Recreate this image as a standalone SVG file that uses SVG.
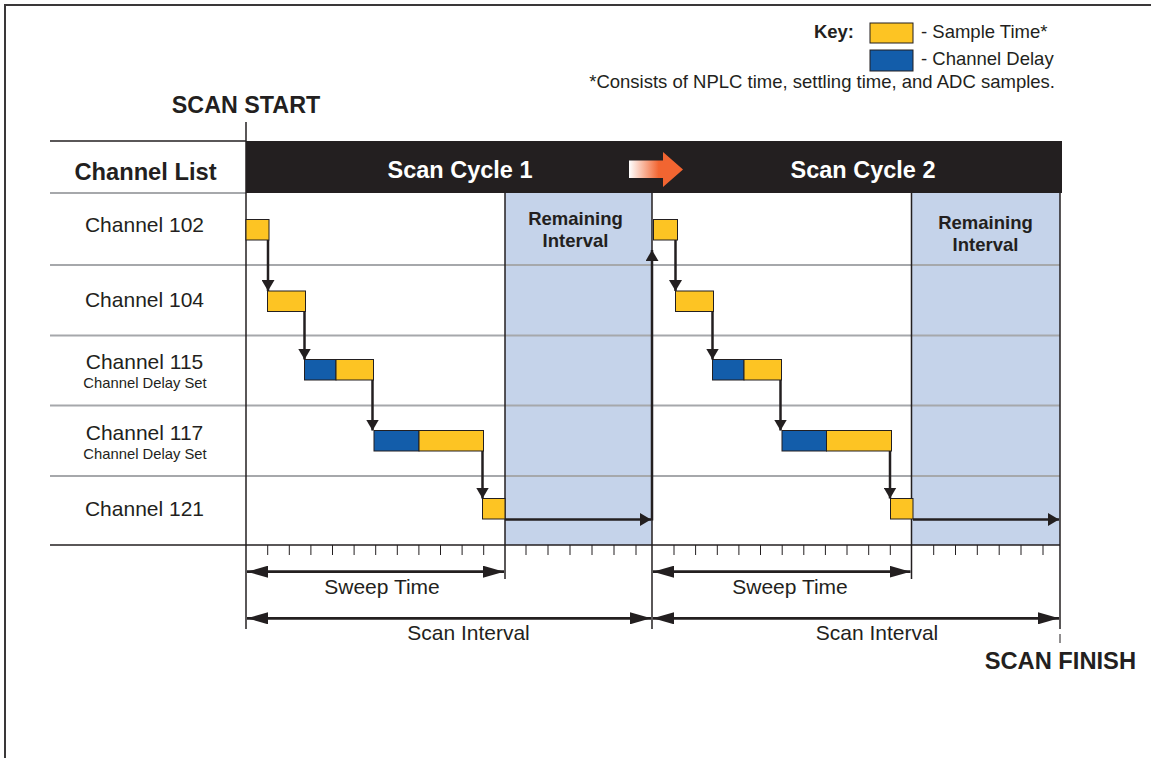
<svg xmlns="http://www.w3.org/2000/svg" width="1151" height="758" viewBox="0 0 1151 758">
<defs>
<linearGradient id="og" x1="0" y1="0" x2="1" y2="0">
<stop offset="0" stop-color="#FFFFFF"/>
<stop offset="0.55" stop-color="#F26531"/>
<stop offset="1" stop-color="#F26531"/>
</linearGradient>
<marker id="ah" markerUnits="userSpaceOnUse" markerWidth="12" markerHeight="13" refX="11" refY="6.5" orient="auto">
<path d="M0,0 L11,6.5 L0,13 z" fill="#231F20"/>
</marker>
<marker id="dh" markerUnits="userSpaceOnUse" markerWidth="21" markerHeight="12" refX="21" refY="6" orient="auto-start-reverse">
<path d="M0,0 L21,6 L0,12 z" fill="#231F20"/>
</marker>
<style>
text{font-family:"Liberation Sans",Arial,sans-serif;fill:#231F20}
.b{font-weight:bold}
.w{fill:#FFFFFF;font-weight:bold;font-size:23.5px}
.ch{font-size:21px;text-anchor:middle}
.sub{font-size:14.8px;text-anchor:middle}
.rem{font-size:18.5px;font-weight:bold;text-anchor:middle}
.dim{font-size:21px;text-anchor:middle}
.key{font-size:18.5px}
.y{fill:#FDC423;stroke:#231F20;stroke-width:1}
.bl{fill:#135DAA;stroke:#231F20;stroke-width:1}
.rm{fill:#C5D3EA}
.grid{stroke:#A6A8AB;stroke-width:2;fill:none}
.dk{stroke:#231F20;stroke-width:1.5;fill:none}
.tick{stroke:#231F20;stroke-width:1;fill:none}
.conn{stroke:#231F20;stroke-width:2.5;fill:none;marker-end:url(#ah)}
.dl{stroke:#231F20;stroke-width:2.8;fill:none;marker-start:url(#dh);marker-end:url(#dh)}
</style>
</defs>
<rect x="0" y="0" width="1151" height="758" fill="#FFFFFF"/>
<path d="M5,758 V5 H1151" stroke="#3A3839" stroke-width="2" fill="none"/>

<g id="remaining-intervals">
<rect class="rm" x="505" y="193" width="147" height="352"/>
<rect class="rm" x="911.5" y="193" width="148.5" height="352"/>
</g>

<g id="grid">
<line class="dk" x1="50" y1="141" x2="246" y2="141"/>
<line class="grid" x1="50" y1="193" x2="246" y2="193"/>
<line class="grid" x1="50" y1="265" x2="1060" y2="265"/>
<line class="grid" x1="50" y1="335.5" x2="1060" y2="335.5"/>
<line class="grid" x1="50" y1="405.5" x2="1060" y2="405.5"/>
<line class="grid" x1="50" y1="476" x2="1060" y2="476"/>
<line class="dk" x1="50" y1="545" x2="1060" y2="545"/>
<line class="dk" x1="246" y1="122" x2="246" y2="629"/>
<line class="dk" x1="505" y1="193" x2="505" y2="579"/>
<line class="dk" x1="652" y1="193" x2="652" y2="629"/>
<line class="dk" x1="911.5" y1="193" x2="911.5" y2="579"/>
<line class="dk" x1="1060" y1="193" x2="1060" y2="629"/>
<line class="tick" x1="1060" y1="634" x2="1060" y2="643"/>
<path class="tick" d="M267.7,545v10M289.3,545v10M310.9,545v10M332.5,545v10M354.1,545v10M375.7,545v10M397.3,545v10M418.9,545v10M440.5,545v10M462.1,545v10M483.7,545v10M526,545v10M548,545v10M570,545v10M592,545v10M614,545v10M636,545v10M674,545v10M695.6,545v10M717.3,545v10M738.9,545v10M760.5,545v10M782.2,545v10M803.8,545v10M825.4,545v10M847,545v10M868.7,545v10M890.3,545v10M933.7,545v10M955.5,545v10M977.3,545v10M999.2,545v10M1021,545v10M1043,545v10"/>
</g>

<g id="header">
<rect x="246" y="141" width="816" height="52" fill="#231F20"/>
<text class="w" x="460" y="177.5" text-anchor="middle">Scan Cycle 1</text>
<text class="w" x="863" y="177.5" text-anchor="middle">Scan Cycle 2</text>
<path d="M629,160.5 H663 V152 L683,169.5 L663,187 V178 H629 z" fill="url(#og)"/>
</g>

<g id="labels">
<text class="b" x="246" y="112.5" font-size="23.3" text-anchor="middle">SCAN START</text>
<text class="b" x="1136" y="668.5" font-size="23.7" text-anchor="end">SCAN FINISH</text>
<text class="b" x="145.5" y="180" font-size="23.7" text-anchor="middle">Channel List</text>
<text class="ch" x="144.5" y="231.5">Channel 102</text>
<text class="ch" x="144.5" y="306.5">Channel 104</text>
<text class="ch" x="144.5" y="368.5">Channel 115</text>
<text class="sub" x="145" y="387.5">Channel Delay Set</text>
<text class="ch" x="144.5" y="440">Channel 117</text>
<text class="sub" x="145" y="459">Channel Delay Set</text>
<text class="ch" x="144.5" y="515.5">Channel 121</text>
<text class="rem" x="575.5" y="225">Remaining</text>
<text class="rem" x="575.5" y="247">Interval</text>
<text class="rem" x="985.5" y="229">Remaining</text>
<text class="rem" x="985.5" y="251">Interval</text>
</g>

<g id="key">
<text class="b" x="854" y="37.5" font-size="18.5" text-anchor="end">Key:</text>
<rect class="y" x="870" y="23" width="43" height="20"/>
<rect class="bl" x="870" y="50" width="43" height="21"/>
<text class="key" x="921" y="37.5">- Sample Time*</text>
<text class="key" x="921" y="65">- Channel Delay</text>
<text class="key" x="1055" y="87.5" text-anchor="end" font-size="18.7">*Consists of NPLC time, settling time, and ADC samples.</text>
</g>

<g id="cycle1-blocks">
<rect class="y" x="246" y="219.5" width="23" height="20.5"/>
<rect class="y" x="267.5" y="291" width="38" height="20.5"/>
<rect class="bl" x="304.5" y="359.5" width="31.5" height="20.5"/>
<rect class="y" x="336" y="359.5" width="37.5" height="20.5"/>
<rect class="bl" x="374" y="430.5" width="45" height="20.5"/>
<rect class="y" x="419" y="430.5" width="64.5" height="20.5"/>
<rect class="y" x="482.5" y="498.5" width="22.5" height="20.5"/>
</g>

<g id="cycle2-blocks">
<rect class="y" x="653.5" y="219.5" width="24" height="20.5"/>
<rect class="y" x="675.5" y="291" width="38" height="20.5"/>
<rect class="bl" x="712.5" y="359.5" width="31.5" height="20.5"/>
<rect class="y" x="744" y="359.5" width="37.5" height="20.5"/>
<rect class="bl" x="782" y="430.5" width="44.5" height="20.5"/>
<rect class="y" x="826.5" y="430.5" width="65" height="20.5"/>
<rect class="y" x="890.5" y="498.5" width="22.5" height="20.5"/>
</g>

<g id="connectors">
<line class="conn" x1="268" y1="240" x2="268" y2="291"/>
<line class="conn" x1="304.5" y1="311.5" x2="304.5" y2="359.5"/>
<line class="conn" x1="372.5" y1="380" x2="372.5" y2="430.5"/>
<line class="conn" x1="482.5" y1="451" x2="482.5" y2="498.5"/>
<line class="conn" x1="505" y1="519.5" x2="651" y2="519.5"/>
<line class="conn" x1="652" y1="520.5" x2="652" y2="250"/>
<line class="conn" x1="675.5" y1="240" x2="675.5" y2="291"/>
<line class="conn" x1="712.5" y1="311.5" x2="712.5" y2="359.5"/>
<line class="conn" x1="780.5" y1="380" x2="780.5" y2="430.5"/>
<line class="conn" x1="890" y1="451" x2="890" y2="498.5"/>
<line class="conn" x1="913" y1="519.5" x2="1059" y2="519.5"/>
<line class="dl" x1="247" y1="571.7" x2="504" y2="571.7"/>
<line class="dl" x1="247" y1="618.3" x2="651" y2="618.3"/>
<line class="dl" x1="653" y1="571.7" x2="910.5" y2="571.7"/>
<line class="dl" x1="653" y1="618.3" x2="1059" y2="618.3"/>
</g>

<g id="dim-labels">
<text class="dim" x="382" y="594">Sweep Time</text>
<text class="dim" x="468.5" y="639.5">Scan Interval</text>
<text class="dim" x="790" y="594">Sweep Time</text>
<text class="dim" x="877" y="639.5">Scan Interval</text>
</g>
</svg>
